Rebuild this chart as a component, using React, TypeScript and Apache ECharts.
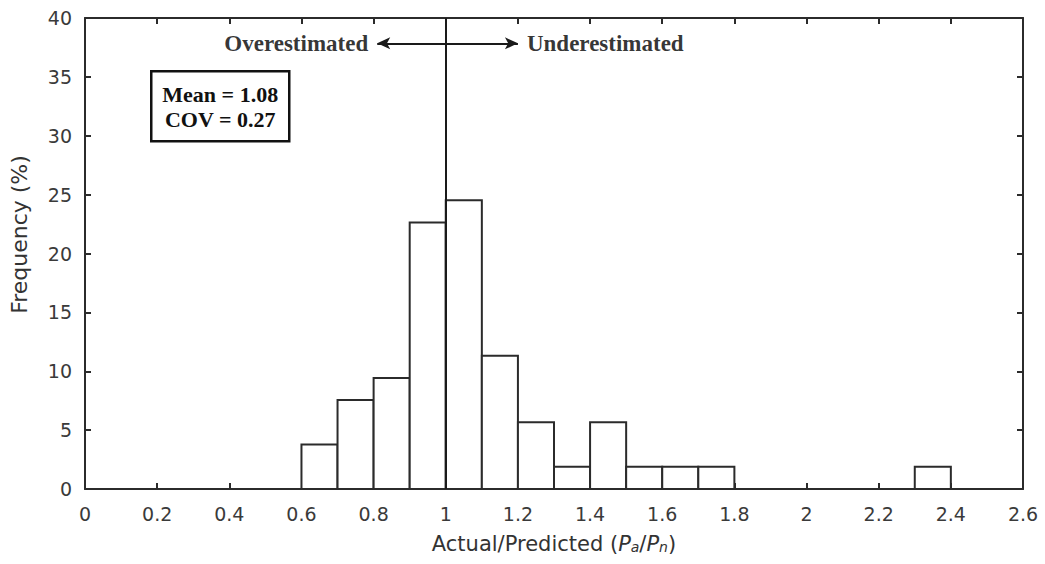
import React, { useEffect, useRef } from "react";
import * as echarts from "echarts";

// Histogram bins (lower edge) and their relative frequency in percent
const binStarts = [0.6, 0.7, 0.8, 0.9, 1.0, 1.1, 1.2, 1.3, 1.4, 1.5, 1.6, 1.7, 2.3];
const binWidth = 0.1;
const frequency = [3.77, 7.55, 9.43, 22.64, 24.53, 11.32, 5.66, 1.89, 5.66, 1.89, 1.89, 1.89, 1.89];

// Axis ranges
const xRange = { min: 0, max: 2.6, interval: 0.2 };
const yRange = { min: 0, max: 40, interval: 5 };

// Annotations
const statLines = ["Mean = 1.08", "COV = 0.27"];
const overLabel = "Overestimated";
const underLabel = "Underestimated";
const arrowY = 37.85;
const arrowLeft = 0.81;
const arrowRight = 1.2;
const divider = 1;

const INK = "#2b2b2b";
const SANS = "'DejaVu Sans', Verdana, sans-serif";
const SERIF = "'Liberation Serif', 'Times New Roman', serif";

export default function App() {
  const ref = useRef<HTMLDivElement>(null);

  useEffect(() => {
    if (!ref.current) return;
    const chart = echarts.init(ref.current, null, { renderer: "svg" });

    const bins = binStarts.map((s, i) => [s, +(s + binWidth).toFixed(2), frequency[i]]);

    const axisCommon = {
      type: "value" as const,
      axisLine: { show: true, onZero: false, lineStyle: { color: INK, width: 2 } },
      axisTick: { show: true, inside: true, length: 6, lineStyle: { color: INK, width: 2 } },
      splitLine: { show: false },
    };

    chart.setOption({
      animation: false,
      backgroundColor: "#ffffff",
      grid: { left: 85, right: 22, top: 18, bottom: 75, containLabel: false },
      xAxis: [
        {
          ...axisCommon,
          ...xRange,
          position: "bottom",
          axisLabel: { color: "#3a3a3a", fontSize: 19, fontFamily: SANS, margin: 15 },
          name: "Actual/Predicted ({i|P}{sub|a}/{i|P}{sub|n})",
          nameLocation: "middle",
          nameGap: 44,
          nameTextStyle: {
            color: "#333333",
            fontSize: 21,
            fontFamily: SANS,
            rich: {
              i: { fontSize: 21, fontStyle: "italic", fontFamily: SANS, color: "#333333" },
              sub: {
                fontSize: 14,
                fontStyle: "italic",
                fontFamily: SANS,
                color: "#333333",
                verticalAlign: "bottom",
                lineHeight: 10,
              },
            },
          },
        },
        {
          ...axisCommon,
          ...xRange,
          position: "top",
          axisLabel: { show: false },
        },
      ],
      yAxis: [
        {
          ...axisCommon,
          ...yRange,
          position: "left",
          axisLabel: { color: "#3a3a3a", fontSize: 19, fontFamily: SANS, margin: 13 },
          name: "Frequency (%)",
          nameLocation: "middle",
          nameGap: 55,
          nameTextStyle: { color: "#333333", fontSize: 22, fontFamily: SANS, padding: [0, 0, 0, 38] },
        },
        {
          ...axisCommon,
          ...yRange,
          position: "right",
          axisLabel: { show: false },
        },
      ],
      series: [
        {
          type: "custom",
          xAxisIndex: 0,
          yAxisIndex: 0,
          data: bins,
          encode: { x: [0, 1], y: 2 },
          renderItem: (params: any, api: any) => {
            const p0 = api.coord([api.value(0), api.value(2)]);
            const p1 = api.coord([api.value(1), 0]);
            return {
              type: "rect",
              shape: { x: p0[0], y: p0[1], width: p1[0] - p0[0], height: p1[1] - p0[1] },
              style: { fill: "#ffffff", stroke: INK, lineWidth: 2 },
            };
          },
          markLine: {
            silent: true,
            animation: false,
            label: { show: false },
            lineStyle: { color: "#1a1a1a", width: 2, type: "solid" },
            data: [
              [
                { coord: [divider, yRange.min], symbol: "none" },
                { coord: [divider, yRange.max], symbol: "none" },
              ],
              [
                { coord: [arrowLeft, arrowY], symbol: "arrow", symbolSize: [9, 13] },
                { coord: [arrowRight, arrowY], symbol: "arrow", symbolSize: [9, 13] },
              ],
            ],
          },
          z: 2,
        },
        {
          type: "scatter",
          symbolSize: 0,
          silent: true,
          data: [
            { value: [0.785, arrowY], label: { formatter: overLabel, position: "left" } },
            { value: [1.225, arrowY], label: { formatter: underLabel, position: "right" } },
          ],
          label: {
            show: true,
            distance: 0,
            color: "#000000",
            fontFamily: SERIF,
            fontWeight: "bold",
            fontSize: 23,
          },
          z: 3,
        },
      ],
      graphic: [
        {
          type: "group",
          left: 150,
          top: 70,
          children: [
            {
              type: "rect",
              shape: { x: 0, y: 0, width: 138, height: 70 },
              style: { fill: "#ffffff", stroke: "#111111", lineWidth: 2.5 },
            },
            {
              type: "text",
              x: 69,
              y: 23,
              style: {
                text: statLines[0],
                fill: "#111111",
                font: `bold 22px ${SERIF}`,
                align: "center",
                verticalAlign: "middle",
              },
            },
            {
              type: "text",
              x: 69,
              y: 48,
              style: {
                text: statLines[1],
                fill: "#111111",
                font: `bold 22px ${SERIF}`,
                align: "center",
                verticalAlign: "middle",
              },
            },
          ],
        },
      ],
    });

    return () => chart.dispose();
  }, []);

  return (
    <div
      ref={ref}
      style={{ position: "fixed", left: 0, top: 0, width: 1045, height: 564, background: "#fff" }}
    />
  );
}
